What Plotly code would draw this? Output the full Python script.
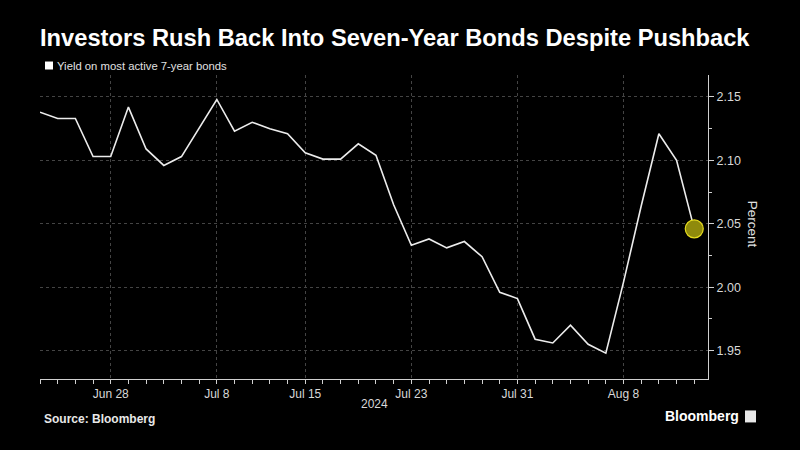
import pandas as pd
import plotly.graph_objects as go

# Datos: rendimiento del bono a 7 años (dias habiles)
fechas = pd.bdate_range("2024-06-24", "2024-08-14")
rendimiento = [
    2.138, 2.133, 2.133, 2.103, 2.103, 2.142, 2.109, 2.096, 2.103, 2.125,
    2.148, 2.123, 2.130, 2.125, 2.121, 2.106, 2.101, 2.101, 2.113, 2.104,
    2.065, 2.033, 2.038, 2.031, 2.036, 2.024, 1.996, 1.991, 1.959, 1.956,
    1.970, 1.955, 1.948, 2.004, 2.064, 2.121, 2.100, 2.046,
]
ticks_x = ["2024-06-28", "2024-07-08", "2024-07-15", "2024-07-23", "2024-07-31", "2024-08-08"]
etiquetas_x = ["Jun 28", "Jul 8", "Jul 15", "Jul 23", "Jul 31", "Aug 8"]
ticks_y = [1.95, 2.00, 2.05, 2.10, 2.15]

W, H = 800, 450
L, R, T, B = 40, 92, 75, 70.5
FONT = "Liberation Sans"


# pixeles -> coordenadas paper
def px_x(px):
    return (px - L) / (W - L - R)


def px_y(py):
    return (H - B - py) / (H - T - B)


fig = go.Figure()
fig.add_trace(go.Scatter(x=fechas, y=rendimiento, mode="lines",
                         line=dict(color="#ececec", width=1.6), showlegend=False))
# punto final resaltado
fig.add_trace(go.Scatter(x=[fechas[-1]], y=[rendimiento[-1]], mode="markers",
                         marker=dict(size=18, color="#8f8a0c",
                                     line=dict(color="#e6dc1e", width=1.2)),
                         showlegend=False))

fig.update_layout(
    width=W, height=H,
    margin=dict(l=L, r=R, t=T, b=B),
    paper_bgcolor="black",
    plot_bgcolor="black",
    font=dict(family=FONT, color="#d8d8d8", size=12),
    title=dict(text="<b>Investors Rush Back Into Seven-Year Bonds Despite Pushback</b>",
               font=dict(family=FONT, size=23.7, color="white"),
               x=40 / W, xanchor="left", xref="container",
               y=1 - 38 / H, yanchor="middle", yref="container"),
    xaxis=dict(
        type="date",
        range=["2024-06-24", "2024-08-14 18:40"],
        rangebreaks=[dict(bounds=["sat", "mon"])],
        tickvals=ticks_x, ticktext=etiquetas_x,
        showline=True, linecolor="#d0d0d0", linewidth=1,
        ticks="outside", ticklen=4, tickcolor="#d0d0d0",
        minor=dict(dtick=86400000, ticks="outside", ticklen=4, tickcolor="#d0d0d0",
                   showgrid=False),
        showgrid=True, gridcolor="#444444", griddash="dot", gridwidth=1,
        zeroline=False,
        tickfont=dict(size=12, color="#d8d8d8"),
    ),
    yaxis=dict(
        side="right",
        range=[1.9276, 2.1673],
        tickvals=ticks_y, tickformat=".2f",
        showline=True, linecolor="#d0d0d0", linewidth=1,
        ticks="outside", ticklen=5, tickcolor="#d0d0d0",
        minor=dict(dtick=0.025, ticks="outside", ticklen=3, tickcolor="#d0d0d0",
                   showgrid=False),
        showgrid=True, gridcolor="#444444", griddash="dot", gridwidth=1,
        zeroline=False,
        tickfont=dict(size=12.5, color="#d8d8d8"),
    ),
)

# leyenda
fig.add_shape(type="rect", xref="paper", yref="paper",
              x0=px_x(45), x1=px_x(53), y0=px_y(69.5), y1=px_y(61.5),
              fillcolor="white", line=dict(width=0))
fig.add_annotation(text="Yield on most active 7-year bonds", xref="paper", yref="paper",
                   x=px_x(55), y=px_y(65.5), xanchor="left", yanchor="middle",
                   showarrow=False, font=dict(size=11.3, color="#e0e0e0"))

fig.add_annotation(text="2024", xref="paper", yref="paper",
                   x=px_x(374), y=px_y(405), xanchor="center", yanchor="middle",
                   showarrow=False, font=dict(size=12, color="#d8d8d8"))
fig.add_annotation(text="Percent", xref="paper", yref="paper", textangle=90,
                   x=px_x(752), y=px_y(224), xanchor="center", yanchor="middle",
                   showarrow=False, font=dict(size=13.5, color="#e0e0e0"))

fig.add_annotation(text="<b>Source: Bloomberg</b>", xref="paper", yref="paper",
                   x=px_x(42), y=px_y(420), xanchor="left", yanchor="middle",
                   showarrow=False, font=dict(size=12, color="#e8e8e8"))
fig.add_annotation(text="<b>Bloomberg</b>", xref="paper", yref="paper",
                   x=px_x(741), y=px_y(417), xanchor="right", yanchor="middle",
                   showarrow=False, font=dict(size=14, color="white"))
fig.add_shape(type="rect", xref="paper", yref="paper",
              x0=px_x(745), x1=px_x(756), y0=px_y(423), y1=px_y(411),
              fillcolor="#e8e8e8", line=dict(width=0))

# sin margen blanco del navegador ni barra de herramientas
fig.write_html("out.html", config={"displayModeBar": False},
               post_script="document.body.style.margin='0';document.body.style.background='black';")
